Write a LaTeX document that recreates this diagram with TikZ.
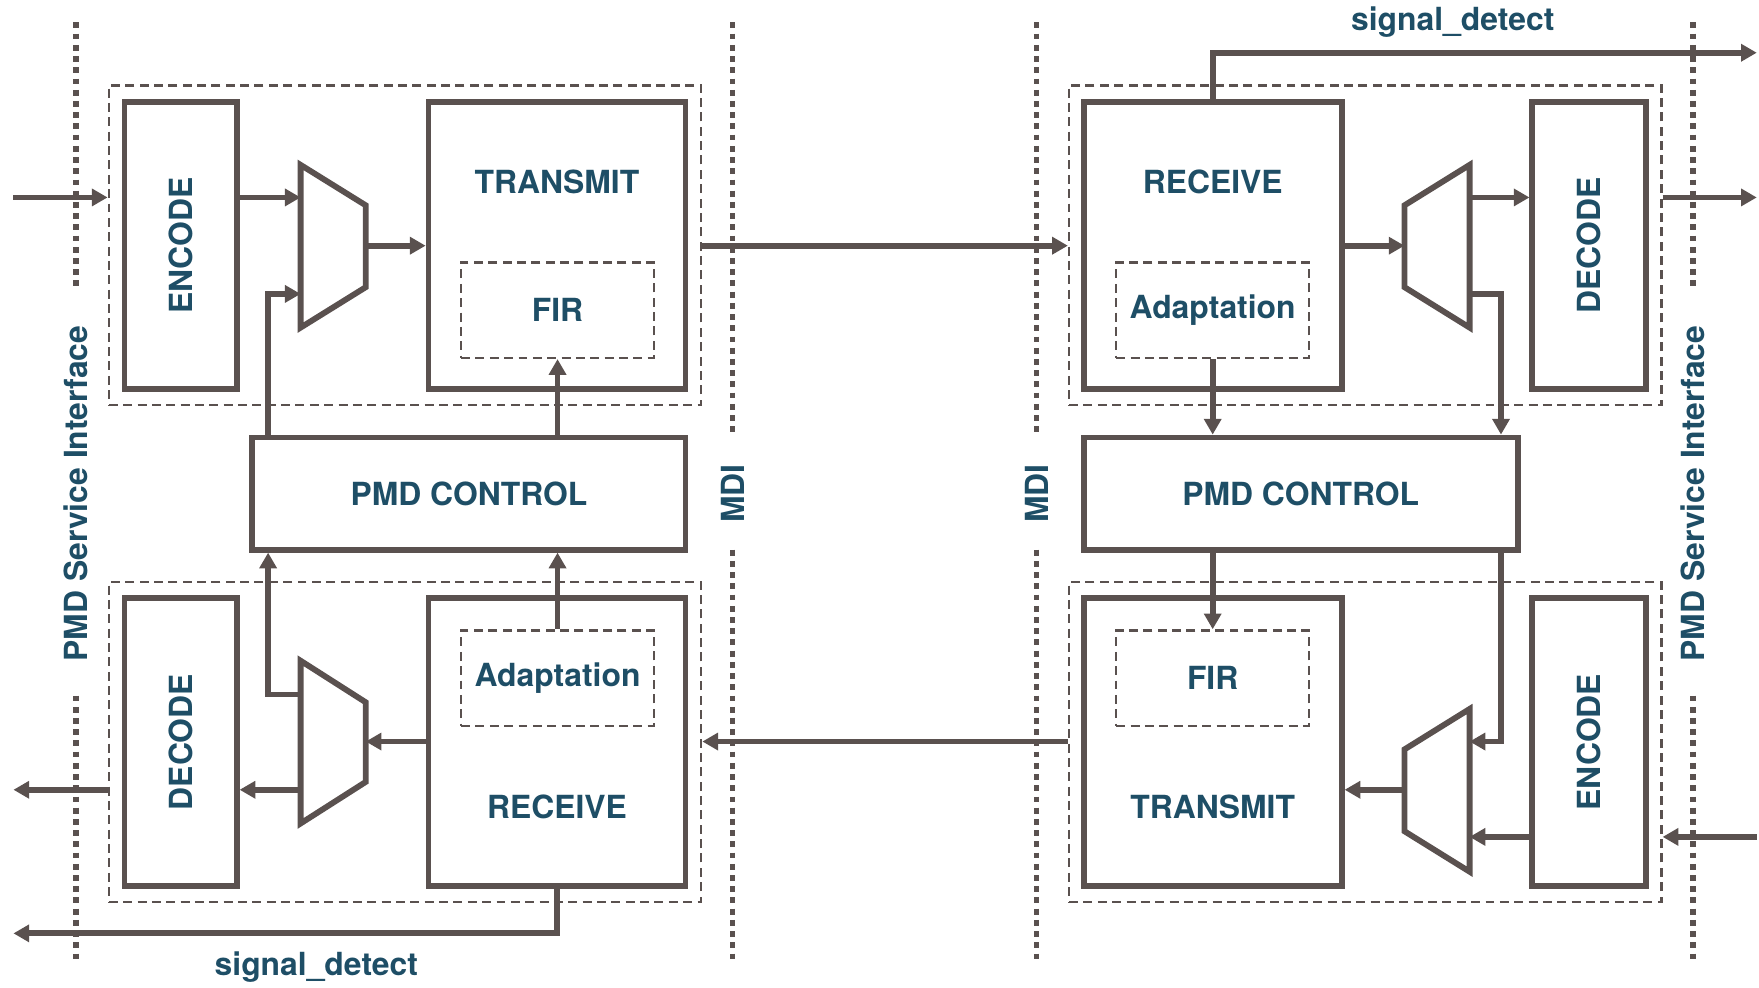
\documentclass[tikz,border=0pt]{standalone}
\usepackage{fontspec}
\setmainfont{TeX Gyre Heros}
\usetikzlibrary{arrows.meta,fit}
\definecolor{lc}{RGB}{90,81,79}
\definecolor{tc}{RGB}{30,78,102}
\tikzset{
  blk/.style={draw=lc, line width=2.6pt, inner sep=0pt},
  dbox/.style={draw=lc, line width=1.1pt, dash pattern=on 4pt off 2.4pt, inner sep=0pt},
  wire/.style={draw=lc, line width=2.6pt},
  arr/.style={wire, -{Triangle[length=7pt,width=7.5pt]}},
  dotline/.style={draw=lc, line width=2.6pt, dash pattern=on 2.6pt off 2.4pt},
  lbl/.style={text=tc, font=\fontsize{14.2}{16}\selectfont\bfseries, inner sep=0pt},
  muxshape/.style={draw=lc, line width=2.6pt, line join=miter},
}
\begin{document}
\begin{tikzpicture}[x=0.5pt, y=-0.5pt]
\useasboundingbox (0,0) rectangle (1568,880);

% interface boundaries
\draw[dotline] (68,20) -- (68,258);
\draw[dotline] (68,620) -- (68,858);
\draw[dotline] (653,20) -- (653,388);
\draw[dotline] (653,490) -- (653,858);
\draw[dotline] (924,20) -- (924,388);
\draw[dotline] (924,490) -- (924,858);
\draw[dotline] (1509,20) -- (1509,258);
\draw[dotline] (1509,620) -- (1509,858);
\node[lbl, rotate=90] (psiL) at (68,440) {PMD Service Interface};
\node[lbl, rotate=90] (psiR) at (1509,440) {PMD Service Interface};
\node[lbl, rotate=90] (mdiL) at (653,440) {MDI};
\node[lbl, rotate=90] (mdiR) at (924,440) {MDI};

% ---------- left: transmit path ----------
\node[dbox, fit={(97,76) (625,361)}] (dTL) {};
\node[blk, fit={(111,91) (211,347)}] (encTL) {};
\node[lbl, rotate=90] at (encTL.center) {ENCODE};
\node[blk, fit={(382,91) (611,347)}] (txTL) {};
\node[lbl] at (496.5,162) {TRANSMIT};
\node[dbox, fit={(411,234) (583,319)}] (firTL) {};
\node[lbl] at (firTL.center) {FIR};
\draw[muxshape] (268,147) -- (326,183) -- (326,256) -- (268,292) -- cycle;
\coordinate (mTLa) at (268,176);
\coordinate (mTLb) at (268,262);
\coordinate (mTLo) at (326,219);

% ---------- left: control ----------
\node[blk, fit={(225,390) (611,490)}] (ctlL) {};
\node[lbl] at (ctlL.center) {PMD CONTROL};

% ---------- left: receive path ----------
\node[dbox, fit={(97,519) (625,804)}] (dBL) {};
\node[blk, fit={(111,533) (211,790)}] (decBL) {};
\node[lbl, rotate=90] at (decBL.center) {DECODE};
\node[blk, fit={(382,533) (611,790)}] (rxBL) {};
\node[lbl] at (496.5,719) {RECEIVE};
\node[dbox, fit={(411,562) (583,647)}] (adBL) {};
\node[lbl] at (adBL.center) {Adaptation};
\draw[muxshape] (268,589) -- (326,626) -- (326,697) -- (268,734) -- cycle;
\coordinate (mBLi) at (326,661);
\coordinate (mBLa) at (268,619);
\coordinate (mBLo) at (268,704);
\coordinate (sdL) at (12,832);
\node[lbl] (sdLt) at (282,862) {signal\_detect};

% ---------- right: receive path ----------
\node[dbox, fit={(953,76) (1481,361)}] (dTR) {};
\node[blk, fit={(966,91) (1196,347)}] (rxTR) {};
\node[lbl] at (1081,162) {RECEIVE};
\node[dbox, fit={(995,234) (1167,319)}] (adTR) {};
\node[lbl] at (adTR.center) {Adaptation};
\node[blk, fit={(1366,91) (1467,347)}] (decTR) {};
\node[lbl, rotate=90] at (decTR.center) {DECODE};
\draw[muxshape] (1310,147) -- (1252,183) -- (1252,256) -- (1310,292) -- cycle;
\coordinate (mTRi) at (1252,219);
\coordinate (mTRo) at (1310,176);
\coordinate (mTRa) at (1310,262);
\coordinate (sdR) at (1566,47);
\node[lbl] (sdRt) at (1295,20) {signal\_detect};

% ---------- right: control ----------
\node[blk, fit={(966,390) (1353,490)}] (ctlR) {};
\node[lbl] at (ctlR.center) {PMD CONTROL};

% ---------- right: transmit path ----------
\node[dbox, fit={(953,519) (1481,804)}] (dBR) {};
\node[blk, fit={(966,533) (1196,790)}] (txBR) {};
\node[lbl] at (1081,719) {TRANSMIT};
\node[dbox, fit={(995,562) (1167,647)}] (firBR) {};
\node[lbl] at (firBR.center) {FIR};
\node[blk, fit={(1366,533) (1467,790)}] (encBR) {};
\node[lbl, rotate=90] at (encBR.center) {ENCODE};
\draw[muxshape] (1310,632) -- (1252,668) -- (1252,741) -- (1310,777) -- cycle;
\coordinate (mBRa) at (1310,661);
\coordinate (mBRb) at (1310,746);
\coordinate (mBRo) at (1252,704);

% external ports
\coordinate (inL) at (12,176);
\coordinate (outL) at (12,704);
\coordinate (outR) at (1566,176);
\coordinate (inR) at (1566,746);

% ---------- connectors ----------
% left transmit
\draw[arr] (inL) -- (dTL.west |- inL);
\draw[arr] (encTL.east |- mTLa) -- (mTLa);
\draw[arr] (mTLo) -- (txTL.west |- mTLo);
\draw[arr] (ctlL.north -| 239,0) |- (mTLb);
\draw[arr] (ctlL.north -| firTL.south) -- (firTL.south);
\draw[arr] (dTL.east |- mTLo) -- (dTR.west |- mTLo);
% left receive
\draw[arr] (dBR.west |- mBLi) -- (dBL.east |- mBLi);
\draw[arr] (rxBL.west |- mBLi) -- (mBLi);
\draw[arr] (mBLo) -- (decBL.east |- mBLo);
\draw[arr] (dBL.west |- outL) -- (outL);
\draw[arr] (mBLa) -| (ctlL.south -| 239,0);
\draw[arr] (adBL.north) -- (ctlL.south -| adBL.north);
\draw[arr] (rxBL.south) |- (sdL);
% right receive
\draw[arr] (rxTR.east |- mTRi) -- (mTRi);
\draw[arr] (mTRo) -- (decTR.west |- mTRo);
\draw[arr] (dTR.east |- outR) -- (outR);
\draw[arr] (mTRa) -| (ctlR.north -| 1338,0);
\draw[arr] (adTR.south) -- (ctlR.north -| adTR.south);
\draw[arr] (rxTR.north) |- (sdR);
% right transmit
\draw[arr] (ctlR.south -| firBR.north) -- (firBR.north);
\draw[arr] (ctlR.south -| 1338,0) |- (mBRa);
\draw[arr] (encBR.west |- mBRb) -- (mBRb);
\draw[arr] (mBRo) -- (txBR.east |- mBRo);
\draw[arr] (inR) -- (dBR.east |- inR);
\end{tikzpicture}
\end{document}
